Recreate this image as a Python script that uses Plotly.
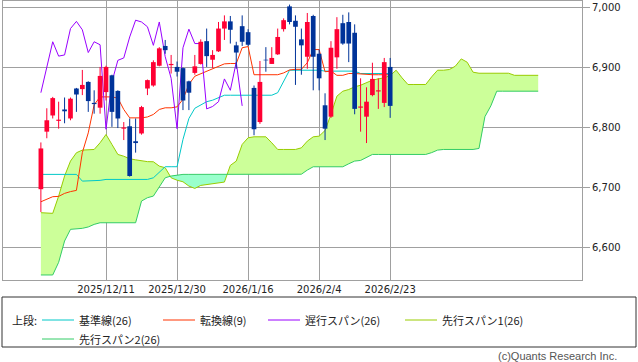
import plotly.graph_objects as go

# ---------------- data ----------------
opens = [6697, 6793, 6820, 6811, 6830, 6815, 6865, 6864, 6876, 6841,
         6833, 6859, 6887, 6861, 6798, 6802, 6777, 6790, 6865, 6870,
         6903, 6936, 6904, 6901, 6899, 6877, 6891, 6906, 6944, 6913,
         6927, 6965, 6977, 6937, 6969, 6959, 6866, 6809, 6913, 6906,
         6922, 6964, 7002, 6978, 6947, 6918, 6986, 6923, 6837, 6818,
         6917, 6974, 6976, 6958, 6833, 6818, 6854, 6860, 6841, 6901]
highs = [6775, 6832, 6851, 6843, 6850, 6850, 6866, 6896, 6877, 6862,
         6901, 6903, 6888, 6862, 6809, 6815, 6815, 6836, 6880, 6912,
         6934, 6946, 6921, 6910, 6900, 6878, 6921, 6947, 6965, 6929,
         6976, 6987, 6986, 6943, 6987, 6964, 6870, 6911, 6934, 6934,
         6965, 6982, 7005, 6987, 6965, 6991, 6988, 6930, 6857, 6944,
         6984, 6988, 6992, 6972, 6882, 6867, 6908, 6882, 6916, 6916]
lows = [6659, 6782, 6815, 6798, 6807, 6812, 6826, 6854, 6826, 6823,
        6823, 6845, 6801, 6799, 6779, 6718, 6758, 6788, 6854, 6868,
        6902, 6923, 6890, 6885, 6829, 6829, 6888, 6905, 6901, 6899,
        6926, 6946, 6940, 6898, 6936, 6936, 6787, 6806, 6893, 6906,
        6921, 6960, 6972, 6871, 6888, 6898, 6862, 6862, 6779, 6816,
        6898, 6938, 6909, 6822, 6793, 6774, 6852, 6831, 6834, 6816]
closes = [6765, 6812, 6849, 6813, 6827, 6848, 6855, 6871, 6844, 6839,
          6886, 6901, 6826, 6815, 6800, 6719, 6774, 6834, 6879, 6909,
          6932, 6929, 6906, 6893, 6845, 6858, 6902, 6943, 6919, 6921,
          6965, 6977, 6963, 6925, 6943, 6938, 6797, 6876, 6912, 6916,
          6951, 6979, 6976, 6968, 6937, 6976, 6918, 6882, 6798, 6933,
          6964, 6940, 6940, 6831, 6835, 6843, 6881, 6862, 6909, 6836]

kijun = [6721.7] * 7 + [6710.5] * 3 + [6711.7] + [6713.3] * 8 + [6716, 6725] + [6734.5] * 3 + \
        [6780, 6815, 6832, 6838, 6843, 6845.5, 6849.5] + [6853.8] * 9 + [6858, 6878] + \
        [6895.5] * 6 + [6894] * 6 + [6890] * 6
tenkan = [6676, 6680, 6684.5, 6685, 6690, 6693, 6695, 6758, 6791, 6838,
          6851, 6851, 6851, 6849, 6830, 6816, 6816, 6816, 6817.5, 6821.7,
          6830, 6832.8, 6832.8, 6834.4, 6847, 6872, 6885.5, 6889.4, 6893.9, 6897.8,
          6902.2, 6906.1, 6906.7, 6906.7, 6933, 6935, 6888, 6888, 6888, 6888,
          6888, 6891, 6896, 6897, 6897, 6908, 6930, 6930, 6893, 6894,
          6887, 6887, 6890, 6890, 6889, 6888, 6888, 6888, 6888, 6888]
span1 = [6657.8, 6657.8, 6656.7, 6685.5, 6718.9, 6743.9, 6757.8, 6762.2, 6762.2, 6763.3,
         6774.5, 6788.3, 6771.7, 6755, 6752, 6747.8, 6746, 6744, 6743, 6742.8,
         6735.5, 6732.8, 6716, 6712, 6709.4, 6702.2, 6698.3, 6703.3, 6705, 6706,
         6707.8, 6708.9, 6736.7, 6743.9, 6771.7, 6782.8, 6784.4, 6784.4, 6784.4, 6774.4,
         6763.3, 6763.3, 6763.3, 6763.3, 6766, 6777.2, 6784.4, 6785.5, 6795, 6821.7,
         6852.2, 6860.5, 6863.3, 6867.8, 6870.5, 6874.5, 6878.9, 6881.1, 6882.8, 6886.7,
         6895.5, 6882.8, 6871.7, 6871.7, 6871.7, 6871.7, 6884.4, 6895.5, 6895.5, 6896.7,
         6902.2, 6914.4, 6908.9, 6892.2, 6890.5, 6890.5, 6890.5, 6890.5, 6890.5, 6890.5,
         6887, 6887, 6887, 6887, 6887]
span2 = [6553.9, 6553.9, 6553.9, 6575, 6610.5, 6630, 6631, 6631.7, 6634, 6638.3, 6641] + \
        [6641] * 6 + [6677.2, 6682.8, 6685.5, 6701, 6716, 6719, 6720.6] + [6721.7] * 20 + \
        [6722, 6728.9] + [6734.4] * 6 + [6739.4, 6743.9, 6745, 6749.4, 6755] + [6755] * 9 + \
        [6758, 6762.2] + [6763.3] * 6 + [6765, 6818, 6836] + [6860.5] * 8

tick_pos = [11, 23, 35, 47, 59]
tick_labels = ["2025/12/11", "2025/12/30", "2026/1/16", "2026/2/4", "2026/2/23"]
y_ticks = [6600, 6700, 6800, 6900, 7000]

LAG = 25
idx = list(range(len(closes)))
chikou_x = idx[:len(closes) - LAG]
chikou = closes[LAG:]
span_x = list(range(len(span1)))

# ---------------- styles ----------------
UP, DOWN = "#ff0033", "#003399"
C_KIJUN, C_TENKAN, C_CHIKOU = "#00c8c8", "#ff3300", "#9900ff"
C_S1, C_S2 = "#99cc00", "#33cc66"
F_UP, F_DOWN = "#ccff99", "#99ffcc"
GRID = "#a0a0a0"
TXT = "#222222"

fig = go.Figure()

# ---------------- cloud ----------------
def cloud_runs(xs, a, b):
    runs = []
    cx, ca, cb = [], [], []
    sign = None
    for k in range(len(xs)):
        s = (a[k] - b[k]) >= 0
        if sign is None:
            sign = s
        if s != sign:
            d0 = a[k - 1] - b[k - 1]
            d1 = a[k] - b[k]
            t = d0 / (d0 - d1)
            xc = xs[k - 1] + t * (xs[k] - xs[k - 1])
            yc = a[k - 1] + t * (a[k] - a[k - 1])
            cx.append(xc); ca.append(yc); cb.append(yc)
            runs.append((cx, ca, cb, sign))
            cx, ca, cb = [xc], [yc], [yc]
            sign = s
        cx.append(xs[k]); ca.append(a[k]); cb.append(b[k])
    runs.append((cx, ca, cb, sign))
    return runs

for cx, ca, cb, sgn in cloud_runs(span_x, span1, span2):
    fig.add_trace(go.Scatter(x=cx + cx[::-1], y=ca + cb[::-1], fill="toself",
                             fillcolor=F_UP if sgn else F_DOWN, mode="lines",
                             line=dict(width=0), hoverinfo="skip", showlegend=False))

fig.add_trace(go.Scatter(x=span_x, y=span1, mode="lines", line=dict(color=C_S1, width=1), showlegend=False))
fig.add_trace(go.Scatter(x=span_x, y=span2, mode="lines", line=dict(color=C_S2, width=1), showlegend=False))
fig.add_trace(go.Scatter(x=idx, y=kijun, mode="lines", line=dict(color=C_KIJUN, width=1), showlegend=False))
fig.add_trace(go.Scatter(x=idx, y=tenkan, mode="lines", line=dict(color=C_TENKAN, width=1), showlegend=False))
fig.add_trace(go.Scatter(x=chikou_x, y=chikou, mode="lines", line=dict(color=C_CHIKOU, width=1), showlegend=False))

# ---------------- candles ----------------
for is_up, col in ((True, UP), (False, DOWN)):
    wx, wy, bx, by = [], [], [], []
    for i in idx:
        o, h, l, c = opens[i], highs[i], lows[i], closes[i]
        if (c >= o) != is_up:
            continue
        wx += [i, i, None]; wy += [l, h, None]
        bx += [i, i, None]; by += [o, c, None]
    fig.add_trace(go.Scatter(x=wx, y=wy, mode="lines", line=dict(color=col, width=1),
                             hoverinfo="skip", showlegend=False))
    fig.add_trace(go.Scatter(x=bx, y=by, mode="lines", line=dict(color=col, width=4.7),
                             hoverinfo="skip", showlegend=False))

# ---------------- legend (drawn manually) ----------------
L, R, T, B = 3, 56, 1, 82
W, H = 638 - L - R, 362 - T - B

def px(x):
    return (x - L) / W

def py(y):
    return (362 - B - y) / H

shapes = [dict(type="rect", xref="paper", yref="paper", x0=px(2), x1=px(636), y0=py(347), y1=py(297),
               line=dict(color="#333333", width=1))]
legend_items = [("基準線(26)", C_KIJUN, 42, 320), ("転換線(9)", C_TENKAN, 163, 320),
                ("遅行スパン(26)", C_CHIKOU, 268, 320), ("先行スパン1(26)", C_S1, 405, 320),
                ("先行スパン2(26)", C_S2, 42, 339)]
annotations = [dict(text="上段:", x=px(10), y=py(320), xref="paper", yref="paper", showarrow=False,
                    xanchor="left", yanchor="middle", font=dict(family="Noto Sans CJK JP", size=11, color=TXT))]
for name, col, x0, yy in legend_items:
    shapes.append(dict(type="line", xref="paper", yref="paper", x0=px(x0), x1=px(x0 + 32),
                       y0=py(yy), y1=py(yy), line=dict(color=col, width=1)))
    annotations.append(dict(text=name, x=px(x0 + 35), y=py(yy), xref="paper", yref="paper",
                            showarrow=False, xanchor="left", yanchor="middle",
                            font=dict(family="Noto Sans CJK JP", size=11, color=TXT)))
annotations.append(dict(text="(c)Quants Research Inc.", x=px(619), y=py(356), xref="paper", yref="paper",
                        showarrow=False, xanchor="right", yanchor="middle",
                        font=dict(family="Liberation Sans", size=11, color="#555555")))

fig.update_layout(
    width=638, height=362, margin=dict(l=L, r=R, t=T, b=B),
    paper_bgcolor="white", plot_bgcolor="white", showlegend=False,
    shapes=shapes, annotations=annotations,
    xaxis=dict(range=[-6.4, 91.4], tickvals=tick_pos, ticktext=tick_labels, showgrid=True,
               gridcolor=GRID, gridwidth=1, zeroline=False, showline=True, mirror=True,
               linecolor=GRID, linewidth=1, ticks="",
               tickfont=dict(family="DejaVu Sans", size=10, color=TXT)),
    yaxis=dict(range=[6545.5, 7011], side="right", tickvals=y_ticks, tickformat=",",
               showgrid=True, gridcolor=GRID, gridwidth=1, zeroline=False, showline=True,
               mirror=True, linecolor=GRID, linewidth=1, ticks="outside", ticklen=7,
               tickcolor=GRID, tickfont=dict(family="DejaVu Sans", size=10, color=TXT)),
)

fig.write_html("out.html", config={"displayModeBar": False},
               post_script="document.body.style.margin='0px';document.body.style.overflow='hidden';")
